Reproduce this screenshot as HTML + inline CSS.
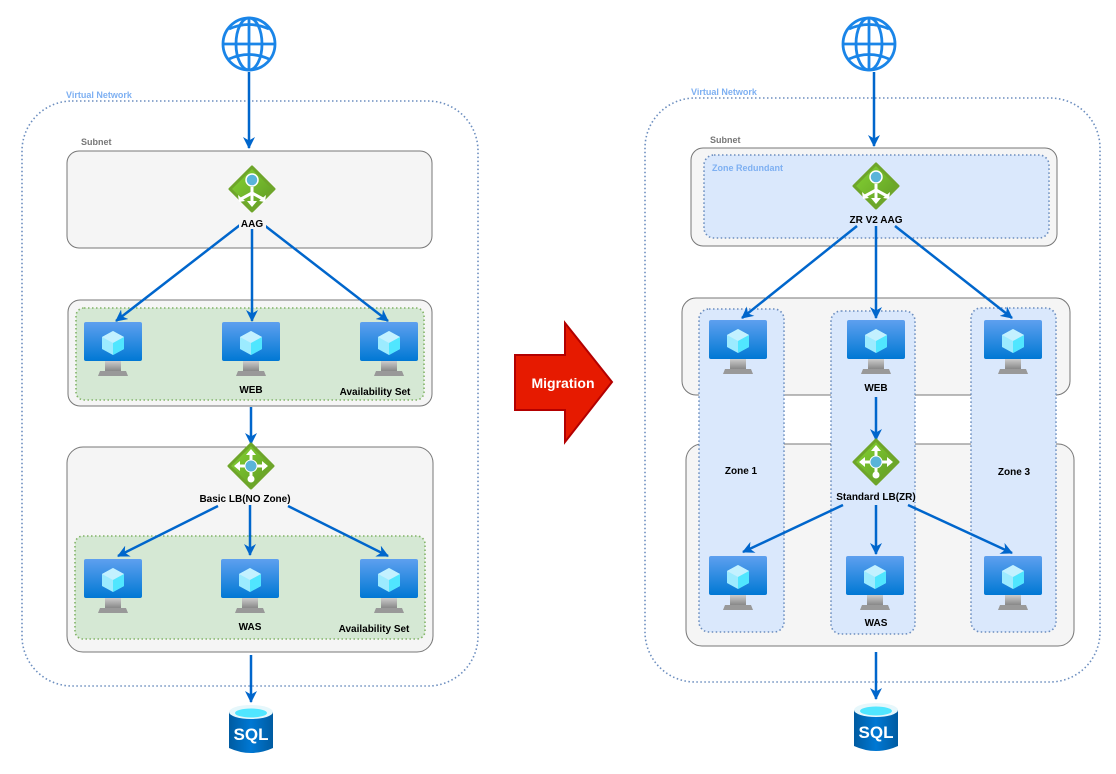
<!DOCTYPE html>
<html><head><meta charset="utf-8"><style>
html,body{margin:0;padding:0;background:#fff;}
svg{display:block;}
text{font-family:"Liberation Sans",Arial,sans-serif;}
</style></head><body>
<svg width="1116" height="774" viewBox="0 0 1116 774" xmlns="http://www.w3.org/2000/svg">
<defs>
<marker id="ah" markerWidth="12" markerHeight="12" refX="11" refY="6" orient="auto" markerUnits="userSpaceOnUse">
<path d="M0,0 L12,6 L0,12 L3.5,6 Z" fill="#0066cc"/>
</marker>
<linearGradient id="mon" x1="0" y1="0" x2="0" y2="1"><stop offset="0" stop-color="#5ea0ef"/><stop offset="1" stop-color="#0078d4"/></linearGradient>
<linearGradient id="std" x1="0" y1="0" x2="0" y2="1"><stop offset="0" stop-color="#ccc"/><stop offset="1" stop-color="#888"/></linearGradient>
<linearGradient id="grn" x1="0" y1="0" x2="1" y2="1"><stop offset="0" stop-color="#86d633"/><stop offset="1" stop-color="#5e9624"/></linearGradient>
<linearGradient id="sqlg" x1="0" y1="0" x2="1" y2="0"><stop offset="0" stop-color="#005ba1"/><stop offset="0.5" stop-color="#0078d4"/><stop offset="1" stop-color="#005ba1"/></linearGradient>
<g id="vm">
<rect x="-29" y="0" width="58" height="39" rx="2" fill="url(#mon)"/>
<path d="M0,9 L11,15 L11,27 L0,33 L-11,27 L-11,15 Z" fill="#9cebff"/>
<path d="M0,9 L11,15 L0,21 L-11,15 Z" fill="#c3f1ff"/>
<path d="M0,21 L11,15 L11,27 L0,33 Z" fill="#50e6ff"/>
<path d="M-8,39 L8,39 L8,49 L-8,49 Z" fill="url(#std)"/>
<path d="M-15,54 L15,54 L13,49 L-13,49 Z" fill="#999"/>
</g>
<g id="globe" fill="none" stroke="#1a85e8" stroke-width="2.8">
<circle cx="0" cy="0" r="26"/>
<ellipse cx="0" cy="0" rx="13" ry="26"/>
<line x1="0" y1="-26" x2="0" y2="26"/>
<line x1="-26" y1="0" x2="26" y2="0"/>
<path d="M-20,-15 Q0,-24 20,-15"/>
<path d="M-20,15 Q0,6 20,15"/>
</g>
<g id="aag">
<path d="M0,-22 L22,0 L0,22 L-22,0 Z" fill="url(#grn)" stroke="#6ea52a" stroke-linejoin="round" stroke-width="3"/>
<circle cx="0" cy="-9" r="6" fill="#59b4d9" stroke="#fff" stroke-width="1.5"/>
<g stroke="#fff" stroke-width="3" fill="none"><path d="M0,-2 V14 M0,4 L-11,10 M0,4 L11,10"/></g>
<path d="M-5,12 L0,18 L5,12 Z M-14,6 L-13,13 L-7,12Z M14,6 L13,13 L7,12Z" fill="#fff"/>
</g>
<g id="lb">
<path d="M0,-22 L22,0 L0,22 L-22,0 Z" fill="url(#grn)" stroke="#6ea52a" stroke-linejoin="round" stroke-width="3"/>
<g stroke="#fff" stroke-width="3"><line x1="-13" y1="0" x2="13" y2="0"/><line x1="0" y1="-13" x2="0" y2="10"/></g>
<path d="M-17,0 L-11,-5 L-11,5Z M17,0 L11,-5 L11,5Z M0,-17 L-5,-11 L5,-11Z" fill="#fff"/>
<circle cx="0" cy="13" r="3.5" fill="#fff"/>
<circle cx="0" cy="0" r="6" fill="#59b4d9" stroke="#fff" stroke-width="1"/>
</g>
<g id="sql">
<path d="M-22,-16 L-22,20 Q0,30 22,20 L22,-16 Z" fill="url(#sqlg)"/>
<ellipse cx="0" cy="-16" rx="22" ry="7" fill="#e6f7fb"/>
<ellipse cx="0" cy="-15" rx="16" ry="4.5" fill="#50e6ff"/>
<text x="0" y="12" font-size="17" font-weight="bold" fill="#fff" text-anchor="middle">SQL</text>
</g>
</defs>

<!-- LEFT -->
<use href="#globe" x="249" y="44"/>
<text x="66" y="98" font-size="9" font-weight="bold" fill="#7eb0f2">Virtual Network</text>
<rect x="22" y="101" width="456" height="585" rx="50" fill="none" stroke="#6c8ebf" stroke-width="1.6" stroke-dasharray="1.5,2.5"/>
<line x1="249" y1="72" x2="249" y2="148" stroke="#0066cc" stroke-width="2.5" marker-end="url(#ah)"/>
<text x="81" y="145" font-size="9" font-weight="bold" fill="#777">Subnet</text>
<rect x="67" y="151" width="365" height="97" rx="12" fill="#f5f5f5" stroke="#777"/>
<rect x="68" y="300" width="364" height="106" rx="12" fill="#f5f5f5" stroke="#777"/>
<rect x="76" y="308" width="348" height="92" rx="8" fill="#d5e8d4" stroke="#82b366" stroke-width="1.6" stroke-dasharray="1.5,2.5"/>
<rect x="67" y="447" width="366" height="205" rx="16" fill="#f5f5f5" stroke="#777"/>
<rect x="75" y="536" width="350" height="103" rx="8" fill="#d5e8d4" stroke="#82b366" stroke-width="1.6" stroke-dasharray="1.5,2.5"/>
<g stroke="#0066cc" stroke-width="2.5" marker-end="url(#ah)">
<line x1="240" y1="225" x2="116" y2="321"/>
<line x1="252" y1="229" x2="252" y2="321"/>
<line x1="264" y1="225" x2="388" y2="321"/>
<line x1="251" y1="407" x2="251" y2="444"/>
<line x1="218" y1="506" x2="118" y2="556"/>
<line x1="250" y1="505" x2="250" y2="555"/>
<line x1="288" y1="506" x2="388" y2="556"/>
<line x1="251" y1="655" x2="251" y2="702"/>
</g>
<use href="#aag" x="252" y="189"/>
<rect x="239" y="217" width="27" height="12" fill="#f5f5f5"/>
<text x="252" y="227" font-size="10" font-weight="bold" text-anchor="middle">AAG</text>
<use href="#vm" x="113" y="322"/><use href="#vm" x="251" y="322"/><use href="#vm" x="389" y="322"/>
<text x="251" y="393" font-size="10" font-weight="bold" text-anchor="middle">WEB</text>
<text x="375" y="395" font-size="10" font-weight="bold" text-anchor="middle">Availability Set</text>
<use href="#lb" x="251" y="466"/>
<rect x="198" y="492" width="94" height="12" fill="#f5f5f5"/>
<text x="245" y="502" font-size="10" font-weight="bold" text-anchor="middle">Basic LB(NO Zone)</text>
<use href="#vm" x="113" y="559"/><use href="#vm" x="250" y="559"/><use href="#vm" x="389" y="559"/>
<text x="250" y="630" font-size="10" font-weight="bold" text-anchor="middle">WAS</text>
<text x="374" y="632" font-size="10" font-weight="bold" text-anchor="middle">Availability Set</text>
<use href="#sql" x="251" y="728"/>

<!-- MIGRATION -->
<path d="M515,355 L565,355 L565,323 L612,382 L565,442 L565,410 L515,410 Z" fill="#e61a00" stroke="#b30000" stroke-width="2"/>
<text x="563" y="388" font-size="14" font-weight="bold" fill="#fff" text-anchor="middle">Migration</text>

<!-- RIGHT -->
<use href="#globe" x="869" y="44"/>
<text x="691" y="95" font-size="9" font-weight="bold" fill="#7eb0f2">Virtual Network</text>
<rect x="645" y="98" width="455" height="584" rx="50" fill="none" stroke="#6c8ebf" stroke-width="1.6" stroke-dasharray="1.5,2.5"/>
<line x1="874" y1="72" x2="874" y2="146" stroke="#0066cc" stroke-width="2.5" marker-end="url(#ah)"/>
<text x="710" y="143" font-size="9" font-weight="bold" fill="#777">Subnet</text>
<rect x="691" y="148" width="366" height="98" rx="12" fill="#f5f5f5" stroke="#777"/>
<rect x="704" y="155" width="345" height="83" rx="10" fill="#dae8fc" stroke="#6c8ebf" stroke-width="1.6" stroke-dasharray="1.5,2.5"/>
<text x="712" y="171" font-size="9" font-weight="bold" fill="#7eb0f2">Zone Redundant</text>
<rect x="682" y="298" width="388" height="97" rx="14" fill="#f5f5f5" stroke="#777"/>
<rect x="686" y="444" width="388" height="202" rx="16" fill="#f5f5f5" stroke="#777"/>
<rect x="699" y="309" width="85" height="323" rx="10" fill="#dae8fc" stroke="#6c8ebf" stroke-width="1.6" stroke-dasharray="1.5,2.5"/>
<rect x="831" y="311" width="84" height="323" rx="10" fill="#dae8fc" stroke="#6c8ebf" stroke-width="1.6" stroke-dasharray="1.5,2.5"/>
<rect x="971" y="308" width="85" height="324" rx="10" fill="#dae8fc" stroke="#6c8ebf" stroke-width="1.6" stroke-dasharray="1.5,2.5"/>
<g stroke="#0066cc" stroke-width="2.5" marker-end="url(#ah)">
<line x1="857" y1="226" x2="742" y2="318"/>
<line x1="876" y1="226" x2="876" y2="318"/>
<line x1="895" y1="226" x2="1012" y2="318"/>
<line x1="876" y1="397" x2="876" y2="440"/>
<line x1="843" y1="505" x2="743" y2="552"/>
<line x1="876" y1="505" x2="876" y2="554"/>
<line x1="908" y1="505" x2="1012" y2="553"/>
<line x1="876" y1="652" x2="876" y2="699"/>
</g>
<use href="#aag" x="876" y="186"/>
<rect x="848" y="213" width="56" height="12" fill="#dae8fc"/>
<text x="876" y="223" font-size="10" font-weight="bold" text-anchor="middle">ZR V2 AAG</text>
<use href="#vm" x="738" y="320"/><use href="#vm" x="876" y="320"/><use href="#vm" x="1013" y="320"/>
<text x="876" y="391" font-size="10" font-weight="bold" text-anchor="middle">WEB</text>
<use href="#lb" x="876" y="462"/>
<rect x="836" y="490" width="80" height="12" fill="#dae8fc"/>
<text x="876" y="500" font-size="10" font-weight="bold" text-anchor="middle">Standard LB(ZR)</text>
<text x="741" y="474" font-size="10" font-weight="bold" text-anchor="middle">Zone 1</text>
<text x="1014" y="475" font-size="10" font-weight="bold" text-anchor="middle">Zone 3</text>
<use href="#vm" x="738" y="556"/><use href="#vm" x="875" y="556"/><use href="#vm" x="1013" y="556"/>
<text x="876" y="626" font-size="10" font-weight="bold" text-anchor="middle">WAS</text>
<use href="#sql" x="876" y="726"/>
</svg>
</body></html>
